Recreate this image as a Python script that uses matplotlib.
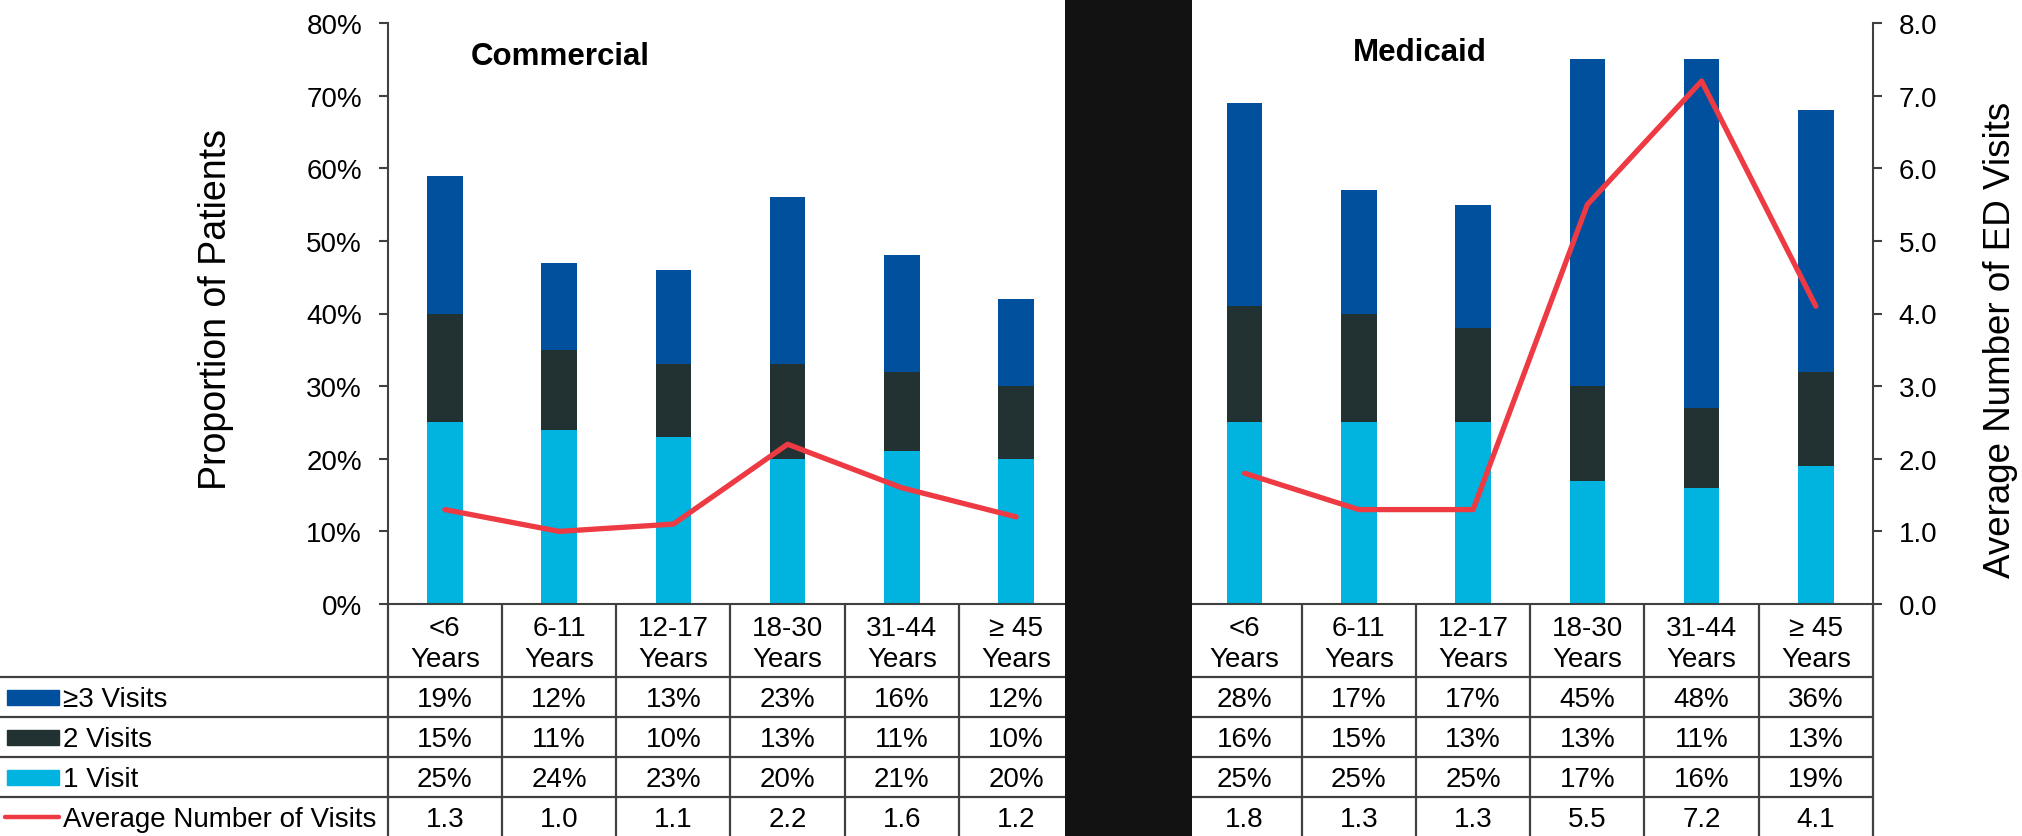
import matplotlib
matplotlib.use("Agg")
import matplotlib.pyplot as plt
from matplotlib.patches import Rectangle
from matplotlib.lines import Line2D
from matplotlib.ticker import FuncFormatter

plt.rcParams['font.family'] = ['Liberation Sans', 'DejaVu Sans']

# ---- data -------------------------------------------------------------
age_groups = ["<6", "6-11", "12-17", "18-30", "31-44", "≥ 45"]
age_unit = "Years"
payers = ["Commercial", "Medicaid"]

commercial_3plus = [19, 12, 13, 23, 16, 12]
commercial_2 = [15, 11, 10, 13, 11, 10]
commercial_1 = [25, 24, 23, 20, 21, 20]
commercial_avg = [1.3, 1.0, 1.1, 2.2, 1.6, 1.2]

medicaid_3plus = [28, 17, 17, 45, 48, 36]
medicaid_2 = [16, 15, 13, 13, 11, 13]
medicaid_1 = [25, 25, 25, 17, 16, 19]
medicaid_avg = [1.8, 1.3, 1.3, 5.5, 7.2, 4.1]

series_labels = ["≥3 Visits", "2 Visits", "1 Visit", "Average Number of Visits"]
pct_ticks = [0, 10, 20, 30, 40, 50, 60, 70, 80]
avg_ticks = [0, 1, 2, 3, 4, 5, 6, 7, 8]

# ---- style ------------------------------------------------------------
C_3PLUS = "#00509E"
C_2 = "#223232"
C_1 = "#00B4DF"
C_AVG = "#EE3A43"
C_RULE = "#404040"
FS = 20

W, H = 2022, 837
AX_L, AX_R, AX_T, AX_B = 387.7, 1873.0, 24.0, 605.0
n_slots = 13
slot_px = (AX_R - AX_L) / n_slots

def px_to_x(px):
    return (px - AX_L) / slot_px - 0.5

x_com = list(range(0, 6))
x_med = list(range(7, 13))

fig = plt.figure(figsize=(W / 100, H / 100), dpi=100)
ax = fig.add_axes([AX_L / W, 1 - AX_B / H, (AX_R - AX_L) / W, (AX_B - AX_T) / H])

bar_w = 0.31
for xs, v1, v2, v3 in [(x_com, commercial_1, commercial_2, commercial_3plus),
                       (x_med, medicaid_1, medicaid_2, medicaid_3plus)]:
    ax.bar(xs, v1, width=bar_w, color=C_1, zorder=2)
    ax.bar(xs, v2, width=bar_w, bottom=v1, color=C_2, zorder=2)
    ax.bar(xs, v3, width=bar_w, bottom=[a + b for a, b in zip(v1, v2)],
           color=C_3PLUS, zorder=2)

ax.set_xlim(-0.5, 12.5)
ax.set_ylim(0, 80)
ax.set_yticks(pct_ticks)
ax.yaxis.set_major_formatter(FuncFormatter(lambda v, _: f"{v:.0f}%"))
ax.set_xticks([])
for s in ["top", "right"]:
    ax.spines[s].set_visible(False)
for s in ["left", "bottom"]:
    ax.spines[s].set_color(C_RULE)
    ax.spines[s].set_linewidth(1.5)
ax.tick_params(axis="y", length=6.5, width=1.5, color=C_RULE, pad=12,
               labelsize=FS)

ax2 = ax.twinx()
ax2.plot(x_com, commercial_avg, color=C_AVG, lw=3.8, solid_capstyle="round",
         solid_joinstyle="round", zorder=3)
ax2.plot(x_med, medicaid_avg, color=C_AVG, lw=3.8, solid_capstyle="round",
         solid_joinstyle="round", zorder=3)
ax2.set_ylim(0, 8)
ax2.set_yticks(avg_ticks)
ax2.yaxis.set_major_formatter(FuncFormatter(lambda v, _: f"{v:.1f}"))
ax2.set_xticks([])
for s in ["top", "left", "bottom"]:
    ax2.spines[s].set_visible(False)
ax2.spines["right"].set_color(C_RULE)
ax2.spines["right"].set_linewidth(1.5)
ax2.tick_params(axis="y", length=6.5, width=1.5, color=C_RULE, pad=12,
                labelsize=FS)

# axis titles
fig.text(216 / W, 1 - 309.5 / H, "Proportion of Patients", rotation=90,
         ha="center", va="center", fontsize=27)
fig.text(2000 / W, 1 - 339.5 / H, "Average Number of ED Visits", rotation=90,
         ha="center", va="center", fontsize=26.5)

# panel titles
fig.text(471 / W, 1 - 65 / H, payers[0], fontsize=22.5, fontweight="bold",
         ha="left", va="baseline")
fig.text(1353 / W, 1 - 60.7 / H, payers[1], fontsize=22.5, fontweight="bold",
         ha="left", va="baseline")

# ---- data table below the plot ------------------------------------------
tab_h = H - AX_B
tab = fig.add_axes([AX_L / W, 0, (AX_R - AX_L) / W, tab_h / H])
tab.set_xlim(-0.5, 12.5)
tab.set_ylim(tab_h, 0)
tab.axis("off")

row_edges = [0, 73, 113, 153, 193, tab_h]
x_far_left = px_to_x(0)
for y in row_edges[1:-1]:
    tab.plot([x_far_left, 12.5], [y, y], color=C_RULE, lw=1.6,
             clip_on=False, solid_capstyle="butt")
for k in range(n_slots + 1):
    tab.plot([k - 0.5, k - 0.5], [0, tab_h], color=C_RULE, lw=1.6,
             clip_on=False, solid_capstyle="butt")

# header: age group names
for xs in (x_com, x_med):
    for x, g in zip(xs, age_groups):
        tab.text(x, 31, g, ha="center", va="baseline", fontsize=FS)
        tab.text(x, 62, age_unit, ha="center", va="baseline", fontsize=FS)

rows = [
    (commercial_3plus, medicaid_3plus, "{:d}%"),
    (commercial_2, medicaid_2, "{:d}%"),
    (commercial_1, medicaid_1, "{:d}%"),
    (commercial_avg, medicaid_avg, "{:.1f}"),
]
for r, (cvals, mvals, fmt) in enumerate(rows):
    top = row_edges[r + 1]
    base = top + 29.5
    for xs, vals in ((x_com, cvals), (x_med, mvals)):
        for x, v in zip(xs, vals):
            tab.text(x, base, fmt.format(v), ha="center", va="baseline",
                     fontsize=FS)
    tab.text(px_to_x(63), base, series_labels[r], ha="left", va="baseline",
             fontsize=FS, clip_on=False)

# legend keys inside the row-label column
key_colors = [C_3PLUS, C_2, C_1]
for r, c in enumerate(key_colors):
    mid = (row_edges[r + 1] + row_edges[r + 2]) / 2
    tab.add_patch(Rectangle((px_to_x(7), mid - 7.5), (59 - 7) / slot_px, 15,
                            color=c, clip_on=False))
mid = (row_edges[4] + row_edges[5]) / 2
tab.add_line(Line2D([px_to_x(5), px_to_x(59)], [mid, mid], color=C_AVG,
                    lw=3.2, solid_capstyle="round", clip_on=False))

# dark band separating the two payer panels
fig.patches.append(Rectangle((1065 / W, 0), (1192 - 1065) / W, 1,
                             transform=fig.transFigure, facecolor="#121212",
                             edgecolor="none", zorder=10))

fig.savefig("out.png", dpi=100)
